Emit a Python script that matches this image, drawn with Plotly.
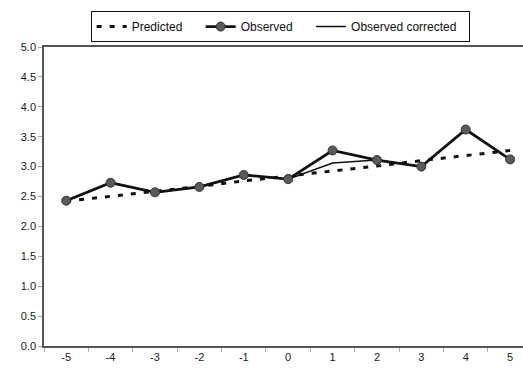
import plotly.graph_objects as go

# Time points relative to the event
periods = [-5, -4, -3, -2, -1, 0, 1, 2, 3, 4, 5]

# Series values
predicted = [2.42, 2.50, 2.59, 2.67, 2.76, 2.84, 2.93, 3.01, 3.10, 3.18, 3.27]
observed = [2.43, 2.73, 2.57, 2.66, 2.86, 2.79, 3.27, 3.11, 3.00, 3.62, 3.12]
observed_corrected = [2.43, 2.73, 2.57, 2.66, 2.86, 2.79, 3.06, 3.11, 3.00, 3.62, 3.12]

y_ticks = [0.0, 0.5, 1.0, 1.5, 2.0, 2.5, 3.0, 3.5, 4.0, 4.5, 5.0]
y_tick_labels = [f"{v:.1f}" for v in y_ticks]

pad = "\u00a0" * 4

fig = go.Figure()

fig.add_trace(go.Scatter(
    x=periods, y=predicted, name="Predicted" + pad, mode="lines",
    line=dict(color="#111111", width=3, dash="5px,8px"),
))
fig.add_trace(go.Scatter(
    x=periods, y=observed_corrected, name="Observed corrected", mode="lines",
    line=dict(color="#111111", width=1.5),
    showlegend=False,
))
fig.add_trace(go.Scatter(
    x=periods, y=observed, name="Observed" + pad, mode="lines+markers",
    line=dict(color="#111111", width=2.8),
    marker=dict(size=9, color="#5a5a5a", line=dict(color="#333333", width=1)),
))
# legend entry for the corrected series, listed last
fig.add_trace(go.Scatter(
    x=[None], y=[None], name="Observed corrected\u00a0\u00a0", mode="lines",
    line=dict(color="#111111", width=1.5),
))

fig.update_layout(
    width=523, height=374,
    margin=dict(l=44, r=0, t=47, b=28),
    paper_bgcolor="white", plot_bgcolor="white",
    font=dict(family="Liberation Sans, Arial, sans-serif", color="#1a1a1a", size=11),
    legend=dict(
        orientation="h", x=0.493, xanchor="center", y=1.12, yanchor="top",
        bordercolor="#111111", borderwidth=1, bgcolor="white",
        font=dict(size=12, color="#111111"),
        itemwidth=30, tracegroupgap=0,
    ),
    xaxis=dict(
        range=[-5.5, 5.29],
        tickvals=periods, ticktext=[str(p) for p in periods],
        ticks="", showgrid=False, zeroline=False,
        showline=True, linecolor="#555555", linewidth=1.5, mirror=True,
        minor=dict(tickvals=[p - 0.5 for p in periods] + [5.5], ticks="outside",
                   ticklen=4, tickcolor="#aaaaaa"),
        tickfont=dict(size=11),
        fixedrange=True,
    ),
    yaxis=dict(
        range=[0, 5], tickvals=y_ticks, ticktext=y_tick_labels,
        ticks="outside", ticklen=4, tickcolor="#aaaaaa",
        showgrid=False, zeroline=False,
        showline=True, linecolor="#555555", linewidth=1.5,
        tickfont=dict(size=11),
        fixedrange=True,
    ),
)

fig.write_html("out.html")
